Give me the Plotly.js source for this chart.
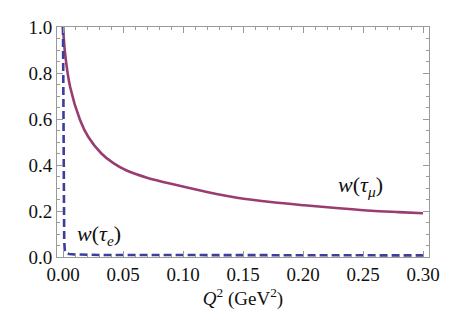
<!DOCTYPE html>
<html>
<head>
<meta charset="utf-8">
<script src="https://cdn.plot.ly/plotly-3.0.1.min.js"></script>
<style>html,body{margin:0;padding:0;background:#fff;}#chart{width:457px;height:311px;}</style>
</head>
<body>
<div id="chart"></div>
<script>
// w(tau_mu) curve
const qMu = [0.0, 0.0017, 0.0059, 0.0142, 0.021, 0.032, 0.042, 0.053, 0.07, 0.09, 0.12, 0.145, 0.175, 0.201, 0.23, 0.257, 0.28, 0.30];
const wMu = [1.0, 0.886, 0.74, 0.596, 0.523, 0.45, 0.408, 0.376, 0.345, 0.318, 0.283, 0.258, 0.238, 0.225, 0.212, 0.201, 0.195, 0.19];
// w(tau_e) curve
const qE = [0.0, 0.0003, 0.0006, 0.001, 0.0015, 0.0025, 0.005, 0.01, 0.03, 0.1, 0.2, 0.3];
const wE = [1.0, 0.6, 0.25, 0.07, 0.03, 0.018, 0.013, 0.011, 0.009, 0.008, 0.007, 0.007];

const xTicks = [0, 0.05, 0.10, 0.15, 0.20, 0.25, 0.30];
const xTickText = ["0.00", "0.05", "0.10", "0.15", "0.20", "0.25", "0.30"];
const yTicks = [0, 0.2, 0.4, 0.6, 0.8, 1.0];
const yTickText = ["0.0", "0.2", "0.4", "0.6", "0.8", "1.0"];

const serif = "Liberation Serif";

const traces = [
  {x: qMu, y: wMu, mode: 'lines', line: {color: '#993d70', width: 2.6, shape: 'spline', smoothing: 0.8}, hoverinfo: 'skip'},
  {x: qE, y: wE, mode: 'lines', line: {color: '#3d3d9e', width: 2.6, dash: '8px,4px'}, hoverinfo: 'skip'}
];

const axisCommon = {
  showline: true, linecolor: '#9a9a9a', linewidth: 1, mirror: 'allticks',
  ticks: 'inside', ticklen: 6, tickcolor: '#9a9a9a', tickwidth: 1,
  showgrid: false, zeroline: false,
  tickfont: {family: serif, size: 19, color: '#111'}
};

const layout = {
  width: 457, height: 311,
  margin: {l: 57, r: 28, t: 27, b: 54},
  paper_bgcolor: '#fff', plot_bgcolor: '#fff',
  showlegend: false,
  font: {family: serif},
  xaxis: Object.assign({}, axisCommon, {
    range: [-0.005, 0.305], tickvals: xTicks, ticktext: xTickText,
    minor: {dtick: 0.01, tick0: 0, ticks: 'inside', ticklen: 3, tickcolor: '#9a9a9a', showgrid: false},
    title: {text: '<i>Q</i><sup>2</sup> (GeV<sup>2</sup>)', font: {family: serif, size: 19, color: '#111'}, standoff: 6}
  }),
  yaxis: Object.assign({}, axisCommon, {
    range: [0, 1], tickvals: yTicks, ticktext: yTickText,
    minor: {dtick: 0.05, tick0: 0, ticks: 'inside', ticklen: 3, tickcolor: '#9a9a9a', showgrid: false}
  }),
  annotations: [
    {x: 0.0297, y: 0.096, xref: 'x', yref: 'y', text: '<i>w</i>(<i>τ<sub>e</sub></i>)', showarrow: false, font: {family: serif, size: 22, color: '#111'}},
    {x: 0.248, y: 0.31, xref: 'x', yref: 'y', text: '<i>w</i>(<i>τ<sub>μ</sub></i>)', showarrow: false, font: {family: serif, size: 22, color: '#111'}}
  ]
};

Plotly.newPlot('chart', traces, layout, {staticPlot: true, displayModeBar: false});
</script>
</body>
</html>
